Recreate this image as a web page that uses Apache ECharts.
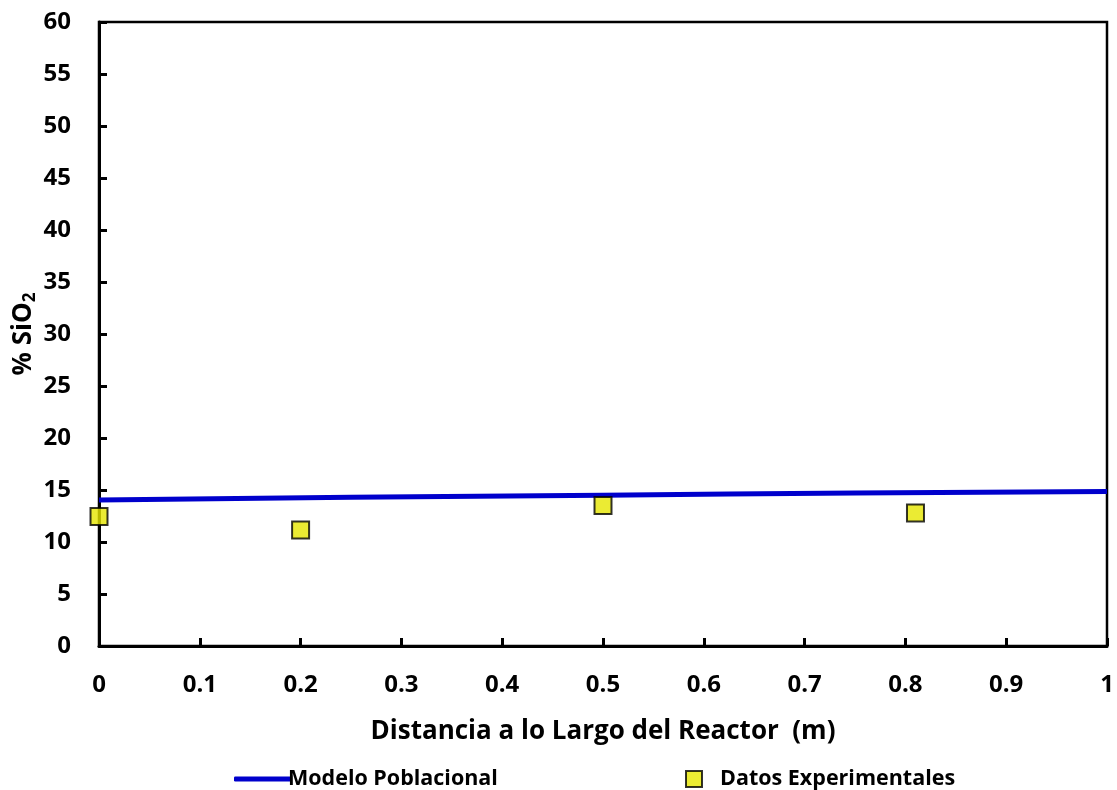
<!DOCTYPE html>
<html>
<head>
<meta charset="utf-8">
<script src="https://cdn.jsdelivr.net/npm/echarts@6/dist/echarts.min.js"></script>
<style>
  html, body { margin: 0; padding: 0; background: #fff; }
  #chart { width: 1117px; height: 790px; }
</style>
</head>
<body>
<div id="chart"></div>
<script>
// Population model curve (distance in m, % SiO2)
const modelX = [0, 0.25, 0.5, 0.75, 1.0];
const modelY = [14.05, 14.3, 14.5, 14.7, 14.85];

// Experimental measurements
const expX = [0, 0.2, 0.5, 0.81];
const expY = [12.45, 11.15, 13.5, 12.8];

const FONT = '"Open Sans", "Noto Sans", sans-serif';

const chart = echarts.init(document.getElementById('chart'));
chart.setOption({
  backgroundColor: '#ffffff',
  animation: false,
  textStyle: { fontFamily: FONT },
  grid: {
    left: 99, right: 10, top: 22, bottom: 144,
    outerBoundsMode: 'none', containLabel: false,
    show: true, borderColor: '#000', borderWidth: 2.5
  },
  xAxis: {
    type: 'value', min: 0, max: 1, interval: 0.1,
    name: 'Distancia a lo Largo del Reactor  (m)',
    nameLocation: 'middle', nameGap: 73, nameMoveOverlap: false,
    nameTextStyle: { fontFamily: FONT, fontWeight: 'bold', fontSize: 26, color: '#000' },
    axisLine: { show: true, lineStyle: { color: '#000', width: 3 } },
    axisTick: { show: true, inside: true, length: 8, lineStyle: { color: '#000', width: 3 } },
    axisLabel: { fontFamily: FONT, fontWeight: 'bold', fontSize: 24, color: '#000', margin: 27 },
    splitLine: { show: false }
  },
  yAxis: {
    type: 'value', min: 0, max: 60, interval: 5,
    name: '{a|% SiO}{s|2}',
    nameLocation: 'middle', nameGap: 60, nameRotate: 90, nameMoveOverlap: false,
    nameTextStyle: {
      fontFamily: FONT, fontWeight: 'bold', fontSize: 26, color: '#000',
      rich: {
        a: { fontFamily: FONT, fontWeight: 'bold', fontSize: 26, color: '#000' },
        s: { fontFamily: FONT, fontWeight: 'bold', fontSize: 17, color: '#000', padding: [13, 0, 0, 0] }
      }
    },
    axisLine: { show: true, lineStyle: { color: '#000', width: 3 } },
    axisTick: { show: true, inside: true, length: 8, lineStyle: { color: '#000', width: 3 } },
    axisLabel: { fontFamily: FONT, fontWeight: 'bold', fontSize: 24, color: '#000', margin: 28 },
    splitLine: { show: false }
  },
  legend: [
    {
      data: ['Modelo Poblacional'],
      left: 229, top: 763,
      icon: 'roundRect', itemWidth: 58, itemHeight: 5,
      itemGap: 0,
      textStyle: { fontFamily: FONT, fontWeight: 'bold', fontSize: 21.5, color: '#000', padding: [0, 0, 0, -9] }
    },
    {
      data: ['Datos Experimentales'],
      left: 680, top: 763,
      icon: 'rect', itemWidth: 16, itemHeight: 16,
      textStyle: { fontFamily: FONT, fontWeight: 'bold', fontSize: 21.5, color: '#000', padding: [0, 0, 0, 13] }
    }
  ],
  series: [
    {
      name: 'Modelo Poblacional',
      type: 'line',
      data: modelX.map((x, i) => [x, modelY[i]]),
      showSymbol: false,
      smooth: true,
      lineStyle: { color: '#0000cc', width: 5 },
      itemStyle: { color: '#0000cc' },
      z: 2
    },
    {
      name: 'Datos Experimentales',
      type: 'scatter',
      data: expX.map((x, i) => [x, expY[i]]),
      symbol: 'rect',
      symbolSize: 17,
      itemStyle: { color: '#e6e600', borderColor: '#000', borderWidth: 2 },
      z: 3
    }
  ]
});
</script>
</body>
</html>
